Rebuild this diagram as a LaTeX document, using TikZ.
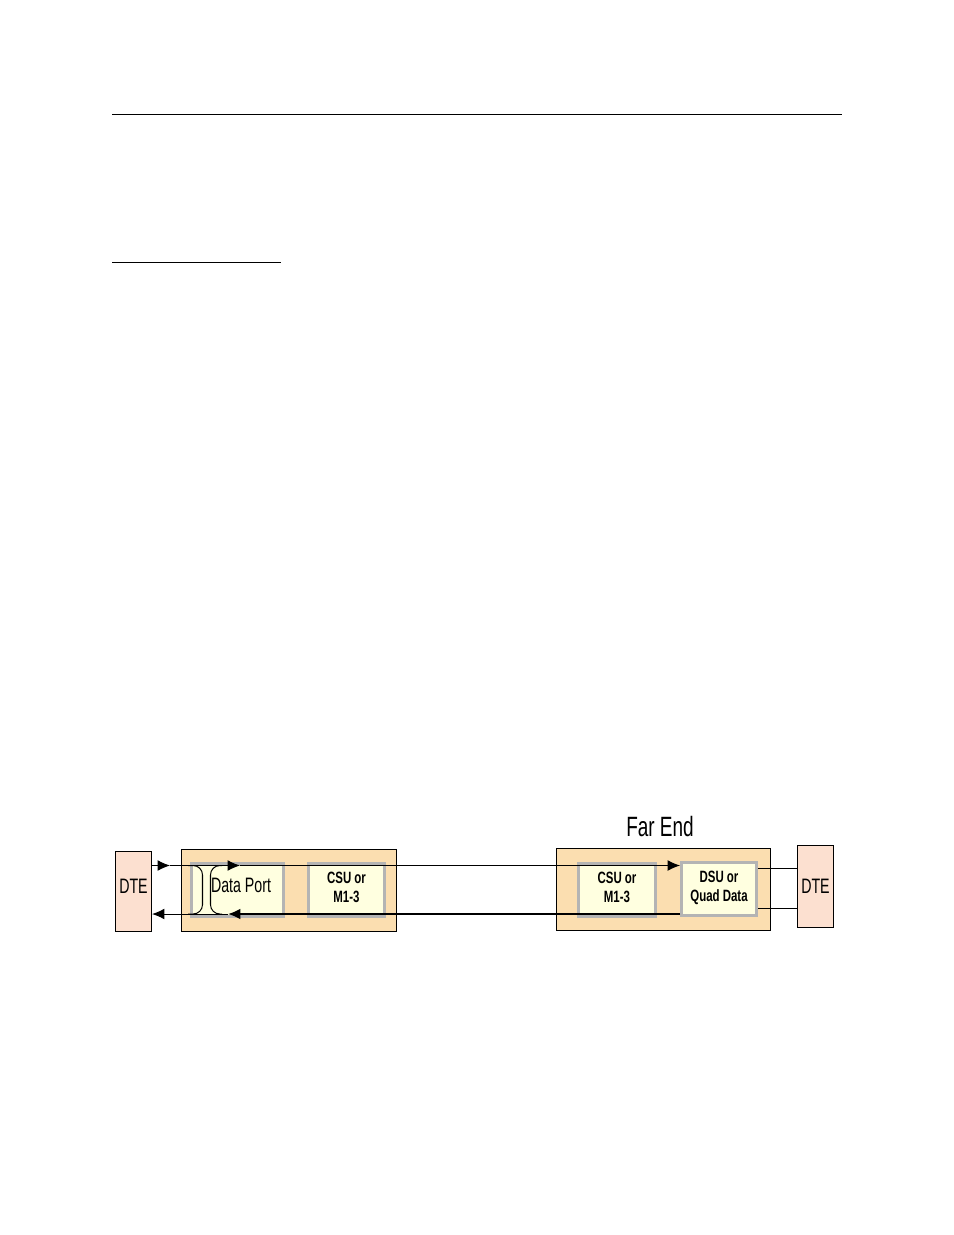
\documentclass[tikz,border=0pt]{standalone}
\usepackage{fontspec}
\setmainfont{Liberation Sans}[FakeStretch=0.68]
\newfontfamily\boxfont{Liberation Sans}[FakeStretch=0.70]
\usetikzlibrary{arrows.meta}
\definecolor{shelf}{RGB}{251,222,176}
\definecolor{dtepink}{RGB}{252,224,208}
\definecolor{cardfill}{RGB}{255,255,224}
\definecolor{cardrim}{RGB}{180,180,180}

\begin{document}
\begin{tikzpicture}[x=0.6415pt,y=-0.6415pt,
    >={Latex[length=8pt,width=7pt]},
    every path/.style={line width=0.65pt},
    dte/.style={draw,fill=dtepink,minimum width=23.1pt,minimum height=51.3pt,
      inner sep=0pt,font=\fontsize{13.4}{16}\selectfont},
    shelf/.style={draw,fill=shelf,minimum width=137.5pt,minimum height=52pt,inner sep=0pt},
    card/.style={draw=cardrim,line width=1.9pt,fill=cardfill,minimum width=49pt,
      minimum height=34pt,inner sep=0pt,align=center,text depth=3.5pt,
      font=\boxfont\bfseries\fontsize{10.5}{12.2}\selectfont}]
  \useasboundingbox (0,0) rectangle (954,1235);

  % page rules
  \draw (112,114.5) -- (842,114.5);
  \draw (112,262.5) -- (281,262.5);

  % near end
  \node[dte,text depth=7pt] (dteNear) at (133.5,891.5) {DTE};
  \node[shelf] (shelfNear) at (289,890.5) {};
  \node[card,minimum width=59pt,text depth=5.8pt,
    font=\fontsize{13.4}{16}\selectfont] (port) at (237.5,890) {\hspace*{4.5pt}Data Port};
  \node[card] (csuNear) at (346.5,890) {CSU or\\M1-3};

  % far end
  \node[font=\fontsize{17.9}{20}\selectfont] (farLabel) at (660,827) {Far End};
  \node[shelf] (shelfFar) at (663.5,889.5) {};
  \node[card,minimum width=49.4pt] (csuFar) at (617,890) {CSU or\\M1-3};
  \node[card,minimum width=48.1pt] (dsu) at (719,889) {DSU or\\Quad Data};
  \node[dte,minimum width=23.7pt,minimum height=52pt] (dteFar) at (815.5,886.5) {DTE};

  \coordinate (up) at (0,865.5);
  \coordinate (dn) at (0,914);
  \coordinate (tip1) at (170,865.5);
  \coordinate (tip2) at (240,865.5);
  \coordinate (tip3) at (228,914);

  % transmit path
  \draw[->] (dteNear.east |- up) -- (tip1);
  \draw[->] (tip1) -- (tip2);
  \draw[->] (tip2) -- (dsu.west |- up);
  % receive path
  \draw[line width=1.3pt,->] (dsu.west |- dn) -- (tip3);
  \draw[->] (tip3) -- (dteNear.east |- dn);
  % loopbacks
  \draw[rounded corners=6pt] (188,865.5) -- (202.5,865.5) -- (202.5,914) -- (188,914);
  \draw[rounded corners=6pt] (222,865.5) -- (210.5,865.5) -- (210.5,914) -- (222,914);

  % far DTE leads
  \draw (dsu.east |- 0,868) -- (dteFar.west |- 0,868);
  \draw (dsu.east |- 0,908) -- (dteFar.west |- 0,908);
\end{tikzpicture}
\end{document}
